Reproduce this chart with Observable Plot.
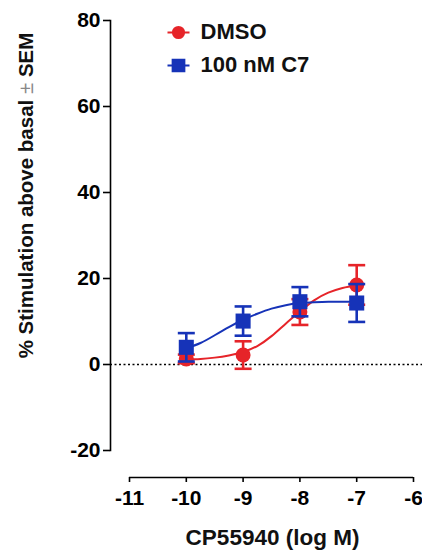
<!DOCTYPE html>
<html><head><meta charset="utf-8">
<script src="https://cdn.jsdelivr.net/npm/d3@7"></script>
<script src="https://cdn.jsdelivr.net/npm/@observablehq/plot@0.6"></script>
<style>
html,body{margin:0;padding:0;background:#fff;}
</style></head><body><div id="chart"></div>
<script>
// ---- data ----
const doses = [-10, -9, -8, -7];
const dmsoMean = [1.3, 2.2, 12.2, 18.5];
const dmsoSem = [1.0, 3.2, 3.0, 4.6];
const c7Mean = [4.0, 10.1, 14.6, 14.3];
const c7Sem = [3.3, 3.4, 3.4, 4.4];
// fitted curves
const fitX = [-10, -9.75, -9.5, -9.25, -9, -8.75, -8.5, -8.25, -8, -7.75, -7.5, -7.25, -7];
const dmsoFit = [1.2, 1.3, 1.6, 2.1, 2.9, 4.3, 6.6, 9.5, 12.3, 14.9, 16.7, 17.8, 18.5];
const c7Fit = [3.8, 5.0, 6.8, 8.7, 10.4, 11.8, 13.0, 13.8, 14.3, 14.5, 14.6, 14.6, 14.6];
const seriesNames = ["DMSO", "100 nM C7"];
const seriesColors = ["#e62429", "#1633b8"];
const seriesSymbols = ["circle", "square"];
const xTicks = [-11, -10, -9, -8, -7, -6];
const yTicks = [-20, 0, 20, 40, 60, 80];
const xLabel = "CP55940 (log M)";
const yLabel = "% Stimulation above basal \u00B1 SEM";

// ---- tables ----
const means = [dmsoMean, c7Mean], sems = [dmsoSem, c7Sem], fits = [dmsoFit, c7Fit];
const points = seriesNames.map((s, k) => doses.map((x, i) => ({series: s, x, mean: means[k][i], sem: sems[k][i], lo: means[k][i] - sems[k][i], hi: means[k][i] + sems[k][i]})));
const curves = seriesNames.map((s, k) => fitX.map((x, i) => ({series: s, x, y: fits[k][i]})));

const capSymbol = {draw(ctx, size) { ctx.moveTo(-8.5, 0); ctx.lineTo(8.5, 0); }};
const legendCircle = {draw(ctx, size) { const r = Math.sqrt(size / Math.PI); ctx.moveTo(r, 0); ctx.arc(0, 0, r, 0, 2 * Math.PI); ctx.moveTo(-11, 0); ctx.lineTo(11, 0); }};
const legendSquare = {draw(ctx, size) { const w = Math.sqrt(size) / 2; ctx.rect(-w, -w, 2 * w, 2 * w); ctx.moveTo(-11, 0); ctx.lineTo(11, 0); }};
const legendSymbols = [legendCircle, legendSquare];

const font = "'Liberation Sans', Arial, sans-serif";
const marks = [
  Plot.ruleY([0], {stroke: "#000", strokeWidth: 1.5, strokeDasharray: "2,2.5"}),
  Plot.frame({anchor: "left", stroke: "#000", strokeWidth: 1.6}),
  Plot.ruleY([yTicks[0]], {x1: xTicks[0], x2: xTicks[xTicks.length - 1], dy: 27, stroke: "#000", strokeWidth: 1.6}),
  Plot.axisY({ticks: yTicks, tickFormat: d => String(d), tickSize: 7, tickPadding: 3, fontSize: 21, label: null, strokeWidth: 1.6, color: "#000"}),
  Plot.axisX({ticks: xTicks, tickFormat: d => String(d), tickSize: 5, tickPadding: 8, dy: 27, fontSize: 21, label: null, strokeWidth: 1.6, color: "#000"}),
  Plot.text([yLabel], {frameAnchor: "left", textAnchor: "middle", lineAnchor: "middle", rotate: -90, dx: -84, dy: -40, fontSize: 20.5, fontWeight: "bold", fill: "#111", className: "ylab"}),
  Plot.text([xLabel], {frameAnchor: "bottom", dx: 6, dy: 94, fontSize: 22.5, fontWeight: "bold", fill: "#111"})
];
seriesNames.forEach((s, k) => {
  const c = seriesColors[k];
  marks.push(
    Plot.line(curves[k], {x: "x", y: "y", stroke: c, strokeWidth: 2, curve: "natural"}),
    Plot.ruleX(points[k], {x: "x", y1: "lo", y2: "hi", stroke: c, strokeWidth: 2.6}),
    Plot.dot(points[k], {x: "x", y: "lo", symbol: capSymbol, stroke: c, strokeWidth: 2.6, r: 5}),
    Plot.dot(points[k], {x: "x", y: "hi", symbol: capSymbol, stroke: c, strokeWidth: 2.6, r: 5}),
    Plot.dot(points[k], {x: "x", y: "mean", symbol: seriesSymbols[k], fill: c, stroke: "none", r: k === 0 ? 7.5 : 8.5})
  );
});
seriesNames.forEach((s, k) => {
  const c = seriesColors[k];
  marks.push(
    Plot.dot([s], {frameAnchor: "top-left", dx: 68, dy: 12 + 33 * k, symbol: legendSymbols[k], fill: c, stroke: c, strokeWidth: 2.2, r: k === 0 ? 5.5 : 6.5}),
    Plot.text([s], {frameAnchor: "top-left", dx: 90, dy: 11 + 33 * k, text: d => d, textAnchor: "start", lineAnchor: "middle", fontSize: 22, fontWeight: "bold", fill: "#111"})
  );
});

const chart = Plot.plot({
  width: 422, height: 553,
  marginLeft: 110, marginRight: 0, marginTop: 20, marginBottom: 103,
  style: {fontFamily: font, fontWeight: "bold", background: "#fff", color: "#000"},
  x: {domain: [xTicks[0], xTicks[xTicks.length - 1]], range: [129, 413]},
  y: {domain: [yTicks[0], yTicks[yTicks.length - 1]]},
  marks
});
document.getElementById("chart").appendChild(chart);
// render the ± sign in grey, as in the reference
d3.select(chart).selectAll("g.ylab text").each(function () {
  const t = d3.select(this);
  const parts = yLabel.split("\u00B1");
  t.text(null);
  t.append("tspan").text(parts[0]);
  t.append("tspan").attr("fill", "#888").attr("font-weight", "normal").text("\u00B1");
  t.append("tspan").text(parts[1]);
});
</script>
</body></html>
